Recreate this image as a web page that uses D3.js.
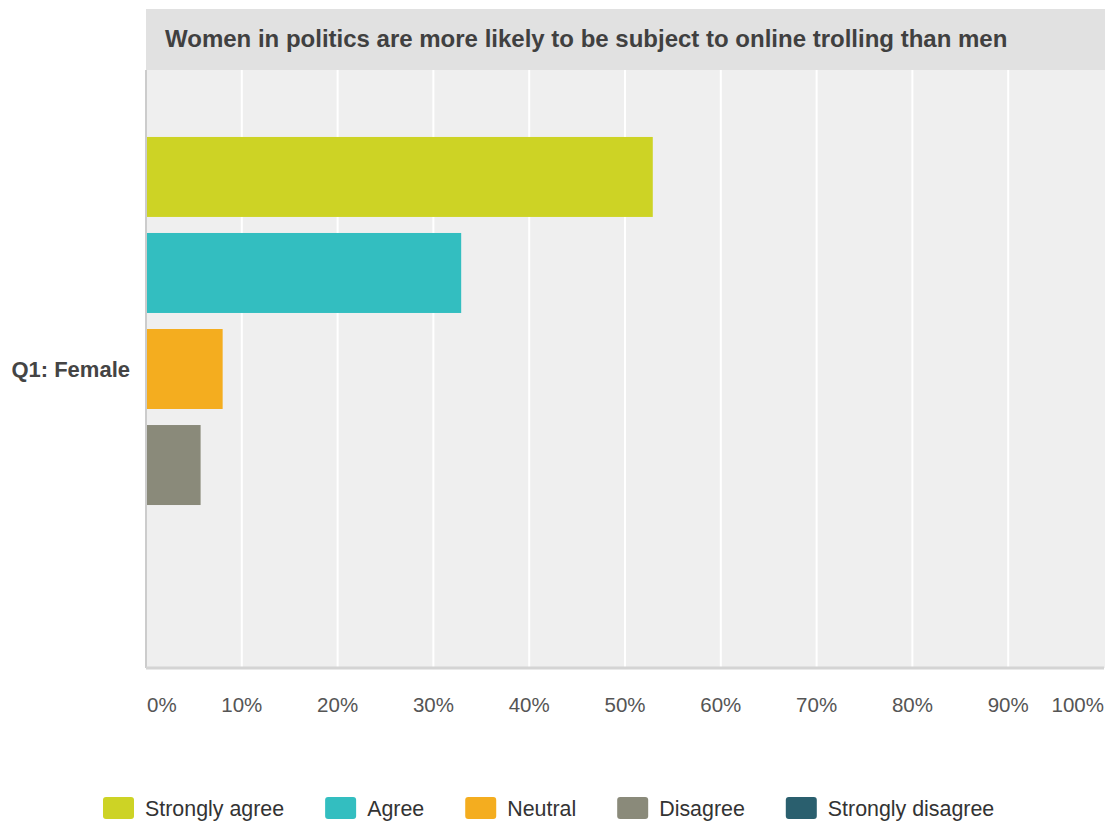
<!DOCTYPE html>
<html>
<head>
<meta charset="utf-8">
<script src="https://cdn.jsdelivr.net/npm/d3@7"></script>
<style>
  html, body { margin: 0; padding: 0; background: #fff; }
  svg { display: block; font-family: "Liberation Sans", Arial, Helvetica, sans-serif; }
</style>
</head>
<body>
<svg id="chart" width="1107" height="821"></svg>
<script>
const title = "Women in politics are more likely to be subject to online trolling than men";
const categories = ["Q1: Female"];
const seriesNames = ["Strongly agree", "Agree", "Neutral", "Disagree", "Strongly disagree"];
const seriesColors = ["#cdd325", "#33bec0", "#f4ad1f", "#8a8a7a", "#2a5f6e"];
const seriesValues = [[52.9], [32.9], [8.0], [5.7], [0]];
const tickValues = [0, 10, 20, 30, 40, 50, 60, 70, 80, 90, 100];
const tickLabels = ["0%", "10%", "20%", "30%", "40%", "50%", "60%", "70%", "80%", "90%", "100%"];

(function () {
const svg = d3.select("#chart");
const pLeft = 146, pRight = 1104, pTop = 70, pBottom = 668;

const x = d3.scaleLinear().domain([0, 100]).range([pLeft, pRight]);
const y = d3.scaleBand().domain(categories).range([pTop, pBottom]).paddingInner(0).paddingOuter(0.1229);
const ySub = d3.scaleBand().domain(seriesNames).range([0, y.bandwidth()]).paddingInner(0.167).paddingOuter(0.083);

// title band
svg.append("rect").attr("x", pLeft).attr("y", 9).attr("width", pRight - pLeft + 1).attr("height", pTop - 9).attr("fill", "#e1e1e1");
svg.append("text").attr("x", 165).attr("y", 47).attr("font-size", 24).attr("font-weight", "bold").attr("fill", "#404040").text(title);

// plot background
svg.append("rect").attr("x", pLeft).attr("y", pTop).attr("width", pRight - pLeft + 1).attr("height", pBottom - pTop).attr("fill", "#efefef");

// gridlines
svg.append("g").selectAll("line").data(tickValues.filter(d => d > 0 && d < 100)).join("line")
  .attr("x1", d => x(d)).attr("x2", d => x(d)).attr("y1", pTop).attr("y2", pBottom)
  .attr("stroke", "#ffffff").attr("stroke-width", 2);

// bars
const gCat = svg.append("g").selectAll("g").data(categories).join("g")
  .attr("transform", d => `translate(0,${y(d)})`);
seriesNames.forEach((s, i) => {
  gCat.append("rect")
    .attr("x", x(0))
    .attr("y", () => ySub(s))
    .attr("width", (d, ci) => x(seriesValues[i][ci]) - x(0))
    .attr("height", ySub.bandwidth())
    .attr("fill", seriesColors[i]);
});

// axis lines
svg.append("line").attr("x1", pLeft).attr("x2", pLeft).attr("y1", pTop).attr("y2", pBottom).attr("stroke", "#cccccc").attr("stroke-width", 2);
svg.append("line").attr("x1", pLeft).attr("x2", pRight).attr("y1", pBottom).attr("y2", pBottom).attr("stroke", "#d4d4d4").attr("stroke-width", 3);

// category label
svg.append("g").selectAll("text").data(categories).join("text")
  .attr("x", 130).attr("y", d => y(d) + y.bandwidth() / 2 + 8)
  .attr("text-anchor", "end").attr("font-size", 22).attr("font-weight", "bold").attr("fill", "#444")
  .text(d => d);

// x tick labels
svg.append("g").selectAll("text").data(tickValues).join("text")
  .attr("x", (d, i) => i === 0 ? x(d) + 1 : x(d))
  .attr("y", 712)
  .attr("text-anchor", (d, i) => i === 0 ? "start" : (i === tickValues.length - 1 ? "end" : "middle"))
  .attr("font-size", 20.5).attr("fill", "#555")
  .text((d, i) => tickLabels[i]);

// legend
const legend = svg.append("g");
let lx = 103;
seriesNames.forEach((s, i) => {
  legend.append("rect").attr("x", lx).attr("y", 797).attr("width", 31).attr("height", 22).attr("rx", 3)
    .attr("fill", seriesColors[i]);
  const t = legend.append("text").attr("x", lx + 42).attr("y", 816).attr("font-size", 21.4).attr("fill", "#333").text(s);
  lx = lx + 42 + t.node().getComputedTextLength() + 41;
});
})();
</script>
</body>
</html>
